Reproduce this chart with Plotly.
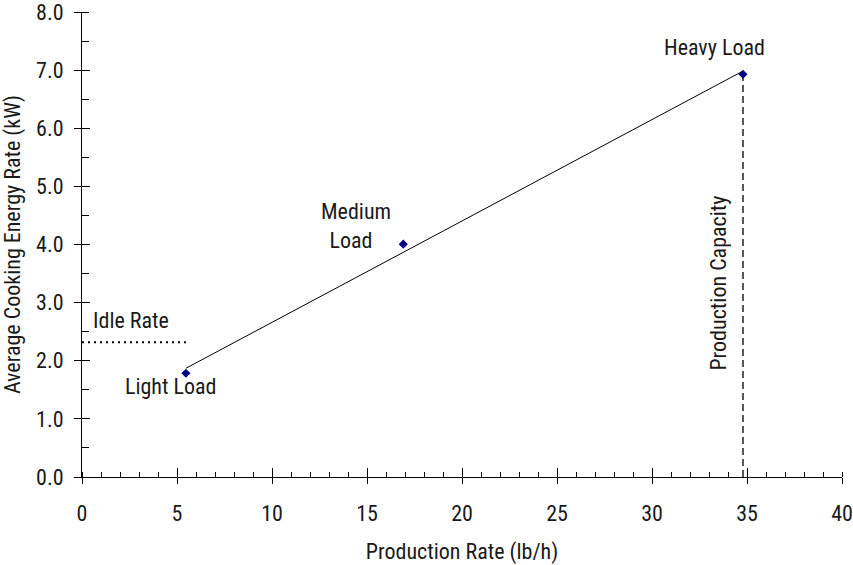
import numpy as np
import plotly.graph_objects as go

# Test points: production rate (lb/h) vs average cooking energy rate (kW)
load_names = ["Light Load", "Medium Load", "Heavy Load"]
production_rate = [5.47, 16.91, 34.79]
energy_rate = [1.785, 4.006, 6.93]
idle_rate = 2.32
x_ticks = [0, 5, 10, 15, 20, 25, 30, 35, 40]
y_ticks = [0, 1, 2, 3, 4, 5, 6, 7, 8]
y_tick_text = [f"{v:.1f}" for v in y_ticks]

FONT = "Roboto Condensed, Liberation Sans Narrow, Arial Narrow, sans-serif"
FSIZE = 22
TXT = "#1a1a1a"

# Linear trendline through the three load points
slope, intercept = np.polyfit(production_rate, energy_rate, 1)
fit_x = [production_rate[0], production_rate[-1]]
fit_y = [slope * v + intercept for v in fit_x]

fig = go.Figure()

fig.add_trace(go.Scatter(x=fit_x, y=fit_y, mode="lines",
                         line=dict(color="black", width=1), hoverinfo="skip"))

# Idle rate reference (dotted) from zero up to the light-load rate
fig.add_trace(go.Scatter(x=[0, production_rate[0]], y=[idle_rate, idle_rate],
                         mode="lines",
                         line=dict(color="black", width=2, dash="2px,4px")))

# Production capacity (dashed vertical at heavy-load rate)
fig.add_trace(go.Scatter(x=[production_rate[-1], production_rate[-1]],
                         y=[0, energy_rate[-1]], mode="lines",
                         line=dict(color="black", width=1.3, dash="7px,4px")))

fig.add_trace(go.Scatter(x=production_rate, y=energy_rate, mode="markers",
                         marker=dict(symbol="diamond", size=7, color="#000080")))

# Overlay axes provide the inner half of the crossing major ticks
fig.add_trace(go.Scatter(x=[None], y=[None], xaxis="x2", yaxis="y2",
                         showlegend=False))

ann_font = dict(family=FONT, size=FSIZE, color=TXT)
fig.add_annotation(x=production_rate[2], y=energy_rate[2], text="Heavy Load",
                   showarrow=False, xshift=-29, yshift=27, font=ann_font)
fig.add_annotation(x=production_rate[1], y=energy_rate[1],
                   text="Medium<br>Load&nbsp;&nbsp;",
                   showarrow=False, xshift=-47, yshift=18, font=ann_font)
fig.add_annotation(x=production_rate[0], y=energy_rate[0], text="Light Load",
                   showarrow=False, xshift=-15, yshift=-13, font=ann_font)
fig.add_annotation(x=0, y=idle_rate, text="Idle Rate", showarrow=False,
                   xanchor="left", xshift=9, yshift=22, font=ann_font)
fig.add_annotation(x=production_rate[2], y=energy_rate[2] / 2,
                   text="Production Capacity", showarrow=False, textangle=-90,
                   xshift=-24, yshift=-8, font=ann_font)

axis_common = dict(showgrid=False, zeroline=False, linecolor="black",
                   linewidth=1, tickcolor="black", tickwidth=1,
                   automargin=False, ticklabeloverflow="allow")

fig.update_layout(
    width=853, height=565,
    margin=dict(l=82, r=11, t=12, b=88),
    paper_bgcolor="white", plot_bgcolor="white",
    showlegend=False,
    font=dict(family=FONT, size=FSIZE, color=TXT),
    xaxis=dict(range=[0, 40], tickvals=x_ticks, ticks="outside", ticklen=6,
               showline=True,
               minor=dict(dtick=1, ticks="inside", ticklen=5,
                          tickcolor="black"),
               title=dict(text="Production Rate (lb/h)", standoff=18,
                          font=dict(size=FSIZE)),
               ticklabelstandoff=11, **axis_common),
    yaxis=dict(range=[0, 8], tickvals=y_ticks, ticktext=y_tick_text,
               ticks="outside", ticklen=7, showline=True,
               minor=dict(dtick=0.5, ticks="inside", ticklen=7,
                          tickcolor="black"),
               title=dict(text="Average Cooking Energy Rate (kW)", standoff=10,
                          font=dict(size=FSIZE)),
               ticklabelstandoff=6, **axis_common),
    xaxis2=dict(overlaying="x", matches="x", anchor="y2", range=[0, 40],
                tickvals=x_ticks, ticks="inside", ticklen=9,
                showticklabels=False, showline=False, showgrid=False,
                zeroline=False, tickcolor="black", automargin=False),
    yaxis2=dict(overlaying="y", matches="y", anchor="x2", range=[0, 8],
                tickvals=y_ticks, ticks="inside", ticklen=8, side="left",
                showticklabels=False, showline=False, showgrid=False,
                zeroline=False, tickcolor="black", automargin=False),
)

fig.write_html("out.html")
